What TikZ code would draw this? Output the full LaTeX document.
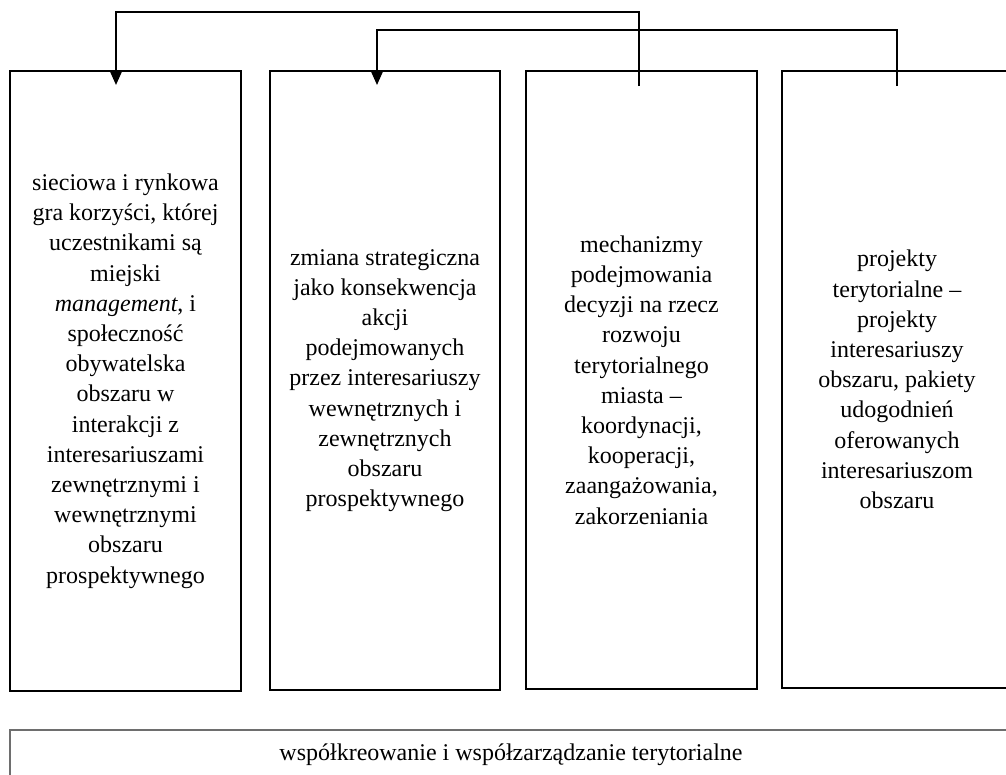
\documentclass[tikz,border=0pt]{standalone}
\usepackage{fontspec}
\setmainfont{Liberation Serif}
\usetikzlibrary{arrows.meta}
\definecolor{framegray}{RGB}{110,110,110}
\begin{document}
\begin{tikzpicture}[x=1pt,y=-1pt,
  box/.style={draw=black, line width=1.8pt, align=center, inner sep=0pt,
    font=\fontsize{24}{30.2}\selectfont},
  link/.style={draw=black, line width=1.8pt, line join=miter,
    -{Triangle[length=14pt,width=12pt]}}]
\useasboundingbox (0,0) rectangle (1006,774);
\clip (0,0) rectangle (1006,774);
\node[box, minimum width=231pt, minimum height=620pt] (b1) at (125.5,381)
  {sieciowa i rynkowa\\gra korzyści, której\\uczestnikami są\\miejski\\\textit{management}, i\\społeczność\\obywatelska\\obszaru w\\interakcji z\\interesariuszami\\zewnętrznymi i\\wewnętrznymi\\obszaru\\prospektywnego};
\node[box, minimum width=230pt, minimum height=619pt] (b2) at (385,380.5)
  {zmiana strategiczna\\jako konsekwencja\\akcji\\podejmowanych\\przez interesariuszy\\wewnętrznych i\\zewnętrznych\\obszaru\\prospektywnego};
\node[box, minimum width=231pt, minimum height=618pt] (b3) at (641.5,380)
  {mechanizmy\\podejmowania\\decyzji na rzecz\\rozwoju\\terytorialnego\\miasta --\\koordynacji,\\kooperacji,\\zaangażowania,\\zakorzeniania};
\node[box, minimum width=230pt, minimum height=617pt] (b4) at (897,379.5)
  {projekty\\terytorialne --\\projekty\\interesariuszy\\obszaru, pakiety\\udogodnień\\oferowanych\\interesariuszom\\obszaru};
\node[box, draw=framegray, minimum width=1002pt, minimum height=50pt] (b5) at (511,755)
  {współkreowanie i współzarządzanie terytorialne};
\coordinate (s3) at (639,86);
\coordinate (s4) at (897,86);
\coordinate (t1) at (116,85);
\coordinate (t2) at (377,85);
\draw[link] (s3) -- ++(0,-74) -| (t1);
\draw[link] (s4) -- ++(0,-56) -| (t2);
\end{tikzpicture}
\end{document}
